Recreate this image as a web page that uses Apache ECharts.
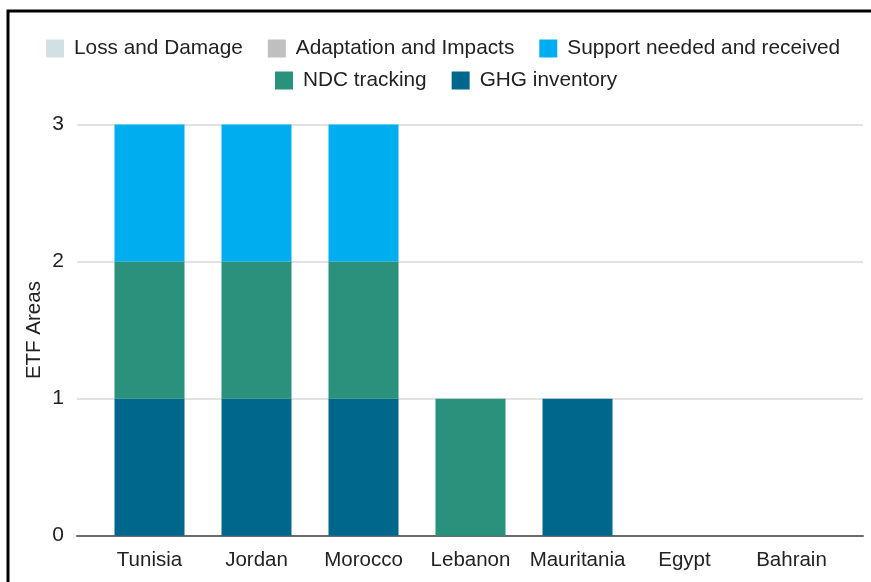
<!DOCTYPE html>
<html>
<head>
<meta charset="utf-8">
<script src="https://cdn.jsdelivr.net/npm/echarts@6/dist/echarts.min.js"></script>
<style>
html,body{margin:0;padding:0;background:#fff;}
#chart{width:871px;height:582px;}
</style>
</head>
<body>
<div id="chart"></div>
<script>
var categories = ['Tunisia', 'Jordan', 'Morocco', 'Lebanon', 'Mauritania', 'Egypt', 'Bahrain'];
var seriesNames = ['Loss and Damage', 'Adaptation and Impacts', 'Support needed and received', 'NDC tracking', 'GHG inventory'];
var lossDamage = [0, 0, 0, 0, 0, 0, 0];
var adaptation = [0, 0, 0, 0, 0, 0, 0];
var support = [1, 1, 1, 0, 0, 0, 0];
var ndc = [1, 1, 1, 1, 0, 0, 0];
var ghg = [1, 1, 1, 0, 1, 0, 0];
var yTicks = [0, 1, 2, 3];

var colors = {
  'Loss and Damage': '#d0e0e3',
  'Adaptation and Impacts': '#bfbfbf',
  'Support needed and received': '#00aeef',
  'NDC tracking': '#2a917c',
  'GHG inventory': '#00678c'
};
var font = '"Liberation Sans", Arial, sans-serif';
var chart = echarts.init(document.getElementById('chart'), null, {renderer: 'canvas'});

function barSeries(name, data) {
  return {
    name: name, type: 'bar', stack: 'etf', data: data,
    xAxisIndex: 1, yAxisIndex: 1, barWidth: 70,
    itemStyle: {color: colors[name]}
  };
}
var legendText = {fontSize: 20.8, color: '#222', fontFamily: font, padding: [0, 0, 0, 5]};

var option = {
  animation: false,
  backgroundColor: '#fff',
  graphic: [{
    type: 'rect', z: 100, silent: true,
    shape: {x: 8, y: 11, width: 900, height: 620},
    style: {fill: 'none', stroke: '#000', lineWidth: 3}
  }],
  legend: [{
    data: seriesNames.slice(0, 3), left: 46, top: 38, padding: 0, itemWidth: 18, itemHeight: 18,
    itemGap: 25, icon: 'rect', textStyle: legendText
  }, {
    data: seriesNames.slice(3), left: 275, top: 70, padding: 0, itemWidth: 18, itemHeight: 18,
    itemGap: 25, icon: 'rect', textStyle: legendText
  }],
  grid: [
    {left: 77, right: 8, top: 124.5, bottom: 46.3},
    {left: 96, right: 26, top: 124.5, bottom: 46.3}
  ],
  xAxis: [{
    gridIndex: 0, type: 'value', min: 0, max: 1,
    axisLine: {show: true, lineStyle: {color: '#6b6b6b', width: 2}},
    axisTick: {show: false}, axisLabel: {show: false}, splitLine: {show: false}
  }, {
    gridIndex: 1, type: 'category', data: categories,
    axisLine: {show: false}, axisTick: {show: false},
    axisLabel: {interval: 0, fontSize: 20.5, color: '#222', fontFamily: font, margin: 14}
  }],
  yAxis: [{
    gridIndex: 0, type: 'value', min: yTicks[0], max: yTicks[yTicks.length - 1], interval: 1,
    name: 'ETF Areas', nameLocation: 'middle', nameGap: 32, nameRotate: 90, nameMoveOverlap: false,
    nameTextStyle: {fontSize: 20.5, color: '#222', fontFamily: font},
    axisLine: {show: false}, axisTick: {show: false},
    axisLabel: {fontSize: 21, color: '#222', fontFamily: font, margin: 13},
    splitLine: {lineStyle: {color: '#d9d9d9', width: 1.5}}
  }, {
    gridIndex: 1, type: 'value', min: 0, max: 3, interval: 1, show: false,
    splitLine: {show: false}
  }],
  series: [
    barSeries('GHG inventory', ghg),
    barSeries('NDC tracking', ndc),
    barSeries('Support needed and received', support),
    barSeries('Adaptation and Impacts', adaptation),
    barSeries('Loss and Damage', lossDamage)
  ]
};
chart.setOption(option);
</script>
</body>
</html>
